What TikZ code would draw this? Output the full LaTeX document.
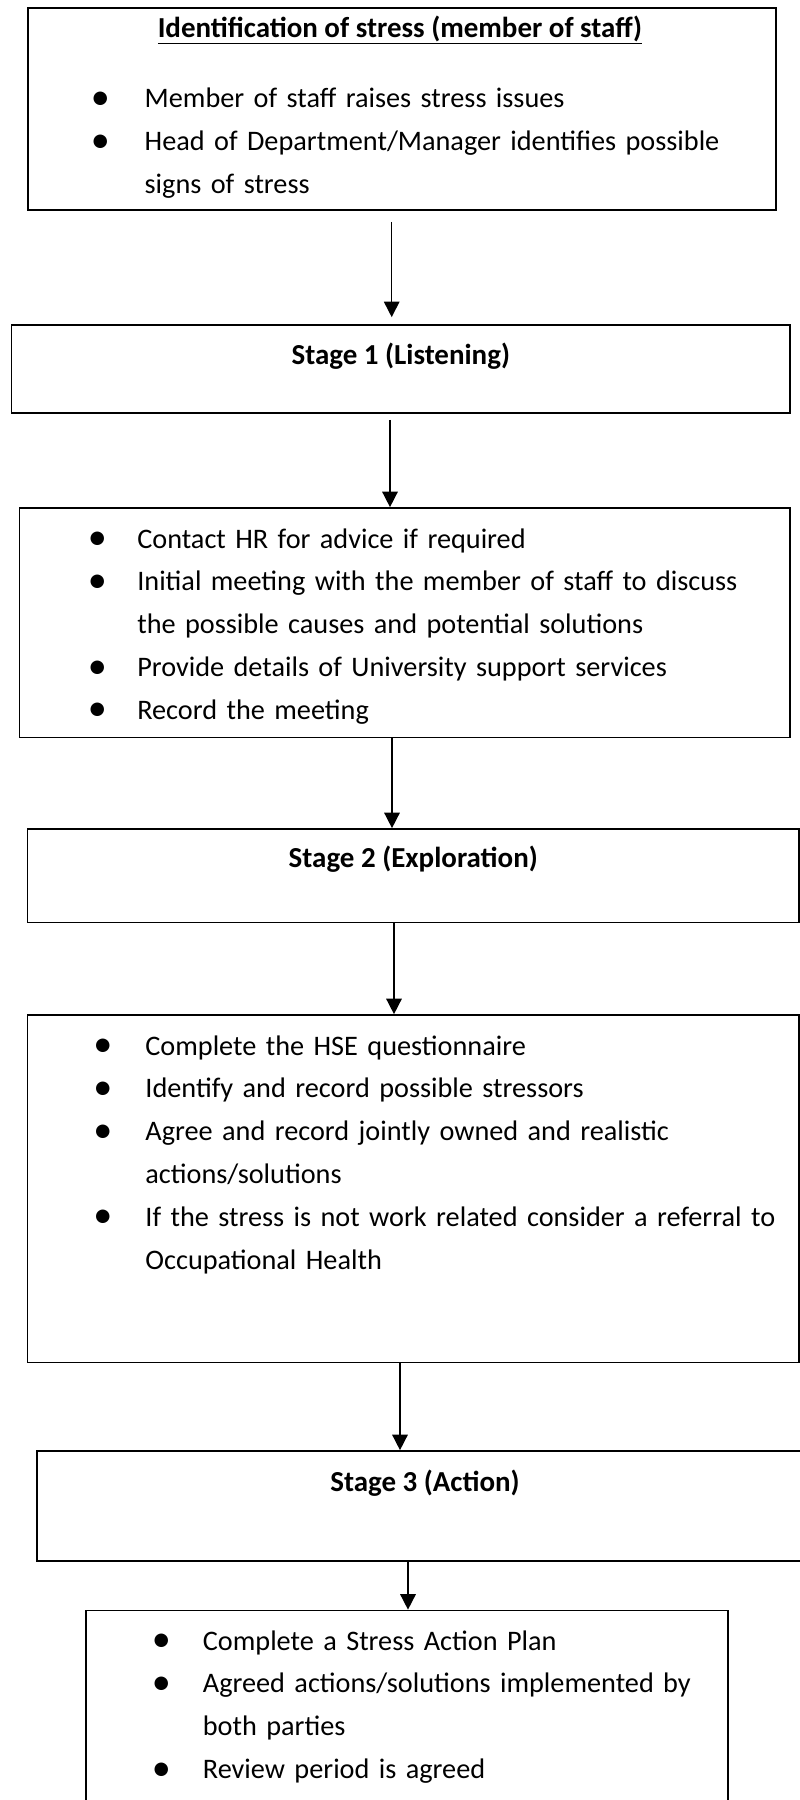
\documentclass[tikz,border=0pt]{standalone}
\usepackage{fontspec}
\setmainfont{Carlito}
\usepackage{graphicx}
\usetikzlibrary{positioning, calc, fit, arrows.meta}

\newlength\bgap
\newcommand\bmark{\makebox[0pt][c]{\raisebox{-1pt}{\scalebox{1.35}{\textbullet}}}}
\newcommand\bpoint[1]{\hangindent=\bgap\hangafter=1\makebox[\bgap][l]{\bmark}#1\par}

\begin{document}
\begin{tikzpicture}[x=.025cm, y=-.025cm,
    panel/.style={draw, line width=1.2pt, inner sep=0pt},
    title/.style={font=\fontsize{20.6}{30}\selectfont\bfseries, inner sep=0pt, anchor=base},
    points/.style={font=\fontsize{20.1}{30.5}\selectfont, text width=19cm, inner sep=0pt, anchor=base west},
    flow/.style={line width=1.1pt, -{Triangle[width=11pt, length=11pt]}}]
  \path[use as bounding box, clip] (0,0) rectangle (800,1800);

  % boxes
  \node[panel, fit={(28,8) (776,210)}] (ident) {};
  \node[panel, fit={(11.5,325) (790,413)}] (stage1) {};
  \node[panel, fit={(19.5,508) (790,737.5)}] (meet) {};
  \node[panel, fit={(27.5,829) (799,922.5)}] (stage2) {};
  \node[panel, fit={(27.5,1015) (799,1362.5)}] (explore) {};
  \node[panel, fit={(37,1451) (813,1561)}] (stage3) {};
  \node[panel, fit={(86,1610.5) (728,1830)}] (act) {};

  % titles
  \node[title] (identT) at ($(ident.north)+(-2,30)$) {\underline{Identification of stress (member of staff)}};
  \node[title] (stage1T) at ($(stage1.north)+(0,40)$) {Stage 1 (Listening)};
  \node[title] (stage2T) at ($(stage2.north)+(0,39)$) {Stage 2 (Exploration)};
  \node[title] (stage3T) at ($(stage3.north)+(0,41)$) {Stage 3 (Action)};

  % bullet lists
  \node[points] (identL) at (100,108) {\raggedright\setlength\bgap{1.11cm}%
    \bpoint{Member of staff raises stress issues}%
    \bpoint{Head of Department/Manager identifies possible\newline signs of stress}};
  \node[points] (meetL) at (97,548) {\raggedright\setlength\bgap{1cm}%
    \bpoint{Contact HR for advice if required}%
    \bpoint{Initial meeting with the member of staff to discuss\newline the possible causes and potential solutions}%
    \bpoint{Provide details of University support services}%
    \bpoint{Record the meeting}};
  \node[points] (exploreL) at (102.7,1055) {\raggedright\setlength\bgap{1.06cm}%
    \bpoint{Complete the HSE questionnaire}%
    \bpoint{Identify and record possible stressors}%
    \bpoint{Agree and record jointly owned and realistic\newline actions/solutions}%
    \bpoint{If the stress is not work related consider a referral to\newline Occupational Health}};
  \node[points] (actL) at (161,1650) {\raggedright\setlength\bgap{1.04cm}%
    \bpoint{Complete a Stress Action Plan}%
    \bpoint{Agreed actions/solutions implemented by\newline both parties}%
    \bpoint{Review period is agreed}};

  % arrows
  \coordinate (c1) at (391.7,0);
  \coordinate (c2) at (390,0);
  \coordinate (c3) at (392,0);
  \coordinate (c4) at (394,0);
  \coordinate (c5) at (400,0);
  \coordinate (c6) at (408,0);
  \draw[flow, shorten >=5pt] ($(ident.south -| c1)+(0,11)$) -- (stage1.north -| c1);
  \draw[flow] ($(stage1.south -| c2)+(0,6)$) -- (meet.north -| c2);
  \draw[flow] (meet.south -| c3) -- (stage2.north -| c3);
  \draw[flow] (stage2.south -| c4) -- (explore.north -| c4);
  \draw[flow] (explore.south -| c5) -- (stage3.north -| c5);
  \draw[flow] (stage3.south -| c6) -- (act.north -| c6);
\end{tikzpicture}
\end{document}
